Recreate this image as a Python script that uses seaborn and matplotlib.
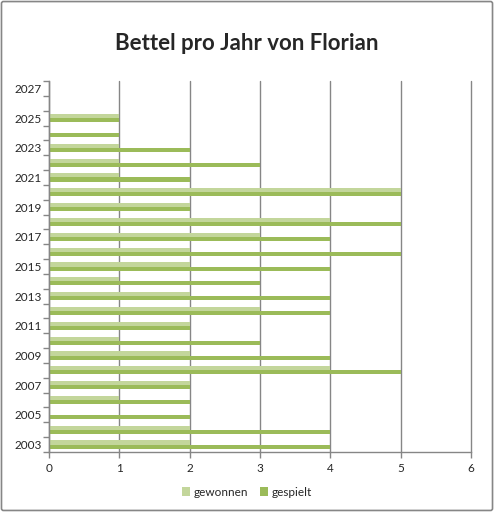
import numpy as np
import pandas as pd
import seaborn as sns
import matplotlib.pyplot as plt
from matplotlib.patches import FancyBboxPatch, Patch

# data
years = list(range(2003, 2028))
gewonnen = [2, 2, 0, 1, 2, 4, 2, 1, 2, 3, 2, 1, 2, 2, 3, 4, 2, 5, 1, 1, 1, 0, 1]
gespielt = [4, 4, 2, 2, 2, 5, 4, 3, 2, 4, 4, 3, 4, 5, 4, 5, 2, 5, 2, 3, 2, 1, 1]
series_names = ['gewonnen', 'gespielt']
colors = ['#C3D69B', '#9BBB59']

data_years = years[:len(gewonnen)]
df = pd.DataFrame({
    'Jahr': [str(y) for y in data_years] * 2,
    'Wert': gewonnen + gespielt,
    'Serie': ['gewonnen'] * len(gewonnen) + ['gespielt'] * len(gespielt),
})

sns.set_style('white')
plt.rcParams['font.family'] = ['Lato', 'DejaVu Sans']

fig = plt.figure(figsize=(4.94, 5.12), dpi=100)
ax = fig.add_axes([49 / 494, 60 / 512, 422 / 494, 371 / 512])

order = [str(y) for y in years[::-1]]
sns.barplot(data=df, y='Jahr', x='Wert', hue='Serie', order=order,
            hue_order=series_names, palette=colors, orient='h',
            width=0.55, gap=0, saturation=1, linewidth=0, ax=ax)

ax.set_xlim(0, 6)
ax.set_ylim(len(years) - 0.5, -0.5)
ax.set_xticks(range(0, 7))
ax.xaxis.grid(True, color='#868686', linewidth=1)
for gl in ax.get_xgridlines():
    gl.set_clip_on(False)
ax.yaxis.grid(False)
ax.set_axisbelow(True)

# ticks at category boundaries, labels on every second year
ax.set_yticks(np.arange(-0.5, len(years), 1.0))
ax.set_yticklabels([])
label_pos = [i for i, y in enumerate(order) if (int(y) - 2003) % 2 == 0]
ax.set_yticks(label_pos, minor=True)
ax.set_yticklabels([order[i] for i in label_pos], minor=True)
ax.tick_params(axis='y', which='major', length=4, width=1, color='#868686', left=True)
ax.tick_params(axis='y', which='minor', length=0, labelsize=8.5, pad=5)
ax.tick_params(axis='x', length=4, width=1, color='#868686', bottom=True,
               labelsize=8.5, pad=4)

for s in ['top', 'right']:
    ax.spines[s].set_visible(False)
for s in ['left', 'bottom']:
    ax.spines[s].set_color('#868686')
    ax.spines[s].set_linewidth(1)

ax.set_xlabel('')
ax.set_ylabel('')
ax.get_legend().remove()

fig.text(0.5, 1 - 44 / 512, 'Bettel pro Jahr von Florian', ha='center', va='center',
         fontsize=16, fontweight='bold')

handles = [Patch(facecolor=c, edgecolor='none') for c in colors]
fig.legend(handles, series_names, loc='center', bbox_to_anchor=(0.5, 1 - 492 / 512),
           ncol=2, frameon=False, fontsize=8.5, handlelength=0.7, handleheight=0.7,
           handletextpad=0.3, columnspacing=1.0)

border = FancyBboxPatch((0.003, 0.003), 0.994, 0.994, boxstyle='round,pad=0,rounding_size=0.004',
                        transform=fig.transFigure, facecolor='none', edgecolor='#868686',
                        linewidth=1.2)
fig.patches.append(border)

fig.savefig('out.png', dpi=100)
